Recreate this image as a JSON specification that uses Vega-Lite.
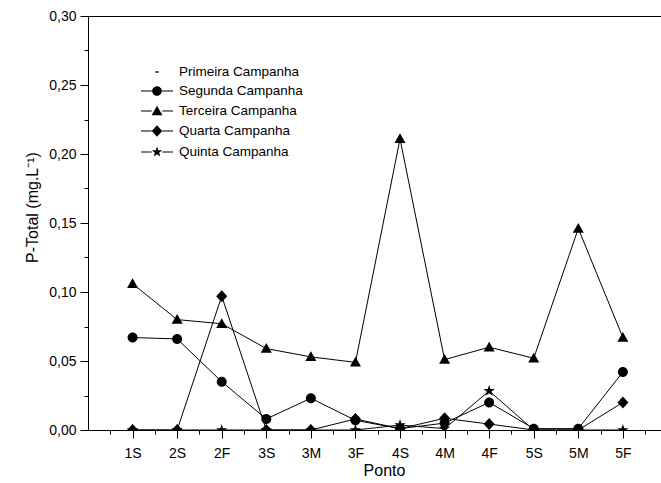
{
  "$schema": "https://vega.github.io/schema/vega-lite/v6.json",
  "autosize": "none",
  "width": 575,
  "height": 414,
  "padding": {"left": 88, "top": 16, "right": 0, "bottom": 53},
  "background": "white",
  "view": {"stroke": "black", "strokeWidth": 1},
  "config": {
    "font": "Liberation Sans",
    "axis": {"domainColor": "black", "tickColor": "black", "labelColor": "black", "titleColor": "black", "labelFont": "Liberation Sans", "titleFont": "Liberation Sans", "titleFontWeight": "normal", "grid": false, "domainWidth": 1, "tickWidth": 1},
    "legend": {"labelFont": "Liberation Sans"}
  },
  "data": {
    "values": [
      {"ponto": "1S", "idx": 1, "serie": "Segunda Campanha", "valor": 0.067},
      {"ponto": "2S", "idx": 2, "serie": "Segunda Campanha", "valor": 0.066},
      {"ponto": "2F", "idx": 3, "serie": "Segunda Campanha", "valor": 0.035},
      {"ponto": "3S", "idx": 4, "serie": "Segunda Campanha", "valor": 0.008},
      {"ponto": "3M", "idx": 5, "serie": "Segunda Campanha", "valor": 0.023},
      {"ponto": "3F", "idx": 6, "serie": "Segunda Campanha", "valor": 0.007},
      {"ponto": "4S", "idx": 7, "serie": "Segunda Campanha", "valor": 0.001},
      {"ponto": "4M", "idx": 8, "serie": "Segunda Campanha", "valor": 0.005},
      {"ponto": "4F", "idx": 9, "serie": "Segunda Campanha", "valor": 0.020},
      {"ponto": "5S", "idx": 10, "serie": "Segunda Campanha", "valor": 0.001},
      {"ponto": "5M", "idx": 11, "serie": "Segunda Campanha", "valor": 0.001},
      {"ponto": "5F", "idx": 12, "serie": "Segunda Campanha", "valor": 0.042},
      {"ponto": "1S", "idx": 1, "serie": "Terceira Campanha", "valor": 0.106},
      {"ponto": "2S", "idx": 2, "serie": "Terceira Campanha", "valor": 0.080},
      {"ponto": "2F", "idx": 3, "serie": "Terceira Campanha", "valor": 0.077},
      {"ponto": "3S", "idx": 4, "serie": "Terceira Campanha", "valor": 0.059},
      {"ponto": "3M", "idx": 5, "serie": "Terceira Campanha", "valor": 0.053},
      {"ponto": "3F", "idx": 6, "serie": "Terceira Campanha", "valor": 0.049},
      {"ponto": "4S", "idx": 7, "serie": "Terceira Campanha", "valor": 0.211},
      {"ponto": "4M", "idx": 8, "serie": "Terceira Campanha", "valor": 0.051},
      {"ponto": "4F", "idx": 9, "serie": "Terceira Campanha", "valor": 0.060},
      {"ponto": "5S", "idx": 10, "serie": "Terceira Campanha", "valor": 0.052},
      {"ponto": "5M", "idx": 11, "serie": "Terceira Campanha", "valor": 0.146},
      {"ponto": "5F", "idx": 12, "serie": "Terceira Campanha", "valor": 0.067},
      {"ponto": "1S", "idx": 1, "serie": "Quarta Campanha", "valor": 0.0},
      {"ponto": "2S", "idx": 2, "serie": "Quarta Campanha", "valor": 0.0},
      {"ponto": "2F", "idx": 3, "serie": "Quarta Campanha", "valor": 0.097},
      {"ponto": "3S", "idx": 4, "serie": "Quarta Campanha", "valor": 0.0},
      {"ponto": "3M", "idx": 5, "serie": "Quarta Campanha", "valor": 0.0},
      {"ponto": "3F", "idx": 6, "serie": "Quarta Campanha", "valor": 0.008},
      {"ponto": "4S", "idx": 7, "serie": "Quarta Campanha", "valor": 0.001},
      {"ponto": "4M", "idx": 8, "serie": "Quarta Campanha", "valor": 0.0085},
      {"ponto": "4F", "idx": 9, "serie": "Quarta Campanha", "valor": 0.0043},
      {"ponto": "5S", "idx": 10, "serie": "Quarta Campanha", "valor": 0.0},
      {"ponto": "5M", "idx": 11, "serie": "Quarta Campanha", "valor": 0.0},
      {"ponto": "5F", "idx": 12, "serie": "Quarta Campanha", "valor": 0.020},
      {"ponto": "1S", "idx": 1, "serie": "Quinta Campanha", "valor": 0.0},
      {"ponto": "2S", "idx": 2, "serie": "Quinta Campanha", "valor": 0.0},
      {"ponto": "2F", "idx": 3, "serie": "Quinta Campanha", "valor": 0.0},
      {"ponto": "3S", "idx": 4, "serie": "Quinta Campanha", "valor": 0.0},
      {"ponto": "3M", "idx": 5, "serie": "Quinta Campanha", "valor": 0.0},
      {"ponto": "3F", "idx": 6, "serie": "Quinta Campanha", "valor": 0.0},
      {"ponto": "4S", "idx": 7, "serie": "Quinta Campanha", "valor": 0.0036},
      {"ponto": "4M", "idx": 8, "serie": "Quinta Campanha", "valor": 0.001},
      {"ponto": "4F", "idx": 9, "serie": "Quinta Campanha", "valor": 0.0283},
      {"ponto": "5S", "idx": 10, "serie": "Quinta Campanha", "valor": 0.0},
      {"ponto": "5M", "idx": 11, "serie": "Quinta Campanha", "valor": 0.0},
      {"ponto": "5F", "idx": 12, "serie": "Quinta Campanha", "valor": 0.0}
    ]
  },
  "encoding": {
    "x": {
      "field": "idx", "type": "quantitative",
      "scale": {"domain": [0, 12.9], "nice": false, "zero": false},
      "axis": {
        "title": "Ponto", "titleFontSize": 16, "titleX": 296, "titleY": 40, "titleBaseline": "middle",
        "values": [0.5, 1, 1.5, 2, 2.5, 3, 3.5, 4, 4.5, 5, 5.5, 6, 6.5, 7, 7.5, 8, 8.5, 9, 9.5, 10, 10.5, 11, 11.5, 12, 12.5],
        "labelExpr": "datum.value % 1 === 0 ? ['','1S','2S','2F','3S','3M','3F','4S','4M','4F','5S','5M','5F'][datum.value] : ''",
        "labelFontSize": 14, "labelPadding": 8, "labelFlush": false, "labelOverlap": false,
        "tickSize": {"condition": {"test": "datum.value % 1 === 0", "value": 8}, "value": 4}
      }
    },
    "y": {
      "field": "valor", "type": "quantitative",
      "scale": {"domain": [0, 0.3], "nice": false},
      "axis": {
        "title": "P-Total (mg.L⁻¹)", "titleFontSize": 16, "titleX": -56, "titleY": 191, "titleAngle": 270, "titleBaseline": "middle", "titleAlign": "center",
        "values": [0, 0.025, 0.05, 0.075, 0.1, 0.125, 0.15, 0.175, 0.2, 0.225, 0.25, 0.275, 0.3],
        "labelExpr": "abs(datum.value*20 - round(datum.value*20)) < 0.001 ? replace(format(datum.value, '.2f'), '.', ',') : ''",
        "labelFontSize": 14, "labelPadding": 4, "labelFlush": false, "labelOverlap": false,
        "tickSize": {"condition": {"test": "abs(datum.value*20 - round(datum.value*20)) < 0.001", "value": 8}, "value": 4}
      }
    }
  },
  "resolve": {"scale": {"shape": "independent"}},
  "layer": [
    {
      "mark": {"type": "line", "color": "black", "strokeWidth": 1, "clip": true},
      "encoding": {"detail": {"field": "serie"}, "order": {"field": "idx"}}
    },
    {
      "mark": {"type": "point", "filled": true, "color": "black", "opacity": 1, "clip": true, "size": 144},
      "encoding": {
        "shape": {
          "field": "serie", "type": "nominal",
          "scale": {
            "domain": ["Primeira Campanha", "Segunda Campanha", "Terceira Campanha", "Quarta Campanha", "Quinta Campanha"],
            "range": [
              "M-0.3,0L0.3,0",
              "M-0.83,0A0.83,0.83,0,1,1,0.83,0A0.83,0.83,0,1,1,-0.83,0Z",
              "M0,-0.92L0.92,0.7L-0.92,0.7Z",
              "M0,-1L0.92,0L0,1L-0.92,0Z",
              "M0,-1L0.2245,-0.309L0.9511,-0.309L0.3633,0.118L0.5878,0.809L0,0.382L-0.5878,0.809L-0.3633,0.118L-0.9511,-0.309L-0.2245,-0.309Z"
            ]
          },
          "legend": null
        }
      }
    },
    {
      "transform": [{"filter": "false"}],
      "mark": {"type": "point", "filled": true, "color": "black", "opacity": 1},
      "encoding": {
        "shape": {
          "field": "serie", "type": "nominal",
          "scale": {
            "domain": ["Primeira Campanha", "Segunda Campanha", "Terceira Campanha", "Quarta Campanha", "Quinta Campanha"],
            "range": [
              "M-0.22,-0.08L0.22,-0.08L0.22,0.08L-0.22,0.08Z",
              "M-2,-0.07L-0.6,-0.07L-0.6,0.07L-2,0.07ZM0.6,-0.07L2,-0.07L2,0.07L0.6,0.07ZM-0.6,0A0.6,0.6,0,1,1,0.6,0A0.6,0.6,0,1,1,-0.6,0Z",
              "M-2,-0.07L-0.66,-0.07L-0.66,0.07L-2,0.07ZM0.66,-0.07L2,-0.07L2,0.07L0.66,0.07ZM0,-0.66L0.68,0.52L-0.68,0.52Z",
              "M-2,-0.07L-0.66,-0.07L-0.66,0.07L-2,0.07ZM0.66,-0.07L2,-0.07L2,0.07L0.66,0.07ZM0,-0.72L0.66,0L0,0.72L-0.66,0Z",
              "M-2,-0.07L-0.66,-0.07L-0.66,0.07L-2,0.07ZM0.66,-0.07L2,-0.07L2,0.07L0.66,0.07ZM0,-0.68L0.1646,-0.2266L0.6468,-0.2102L0.2662,0.0866L0.3996,0.5502L0,0.28L-0.3996,0.5502L-0.2662,0.0866L-0.6468,-0.2102L-0.1646,-0.2266Z"
            ]
          },
          "legend": {
            "title": null, "orient": "none", "legendX": 60, "legendY": 47,
            "labelFontSize": 13.5, "labelColor": "black", "symbolSize": 256, "labelOffset": 13,
            "rowPadding": 3, "padding": 0,
            "symbolFillColor": "black", "symbolOpacity": 1
          }
        }
      }
    }
  ]
}
